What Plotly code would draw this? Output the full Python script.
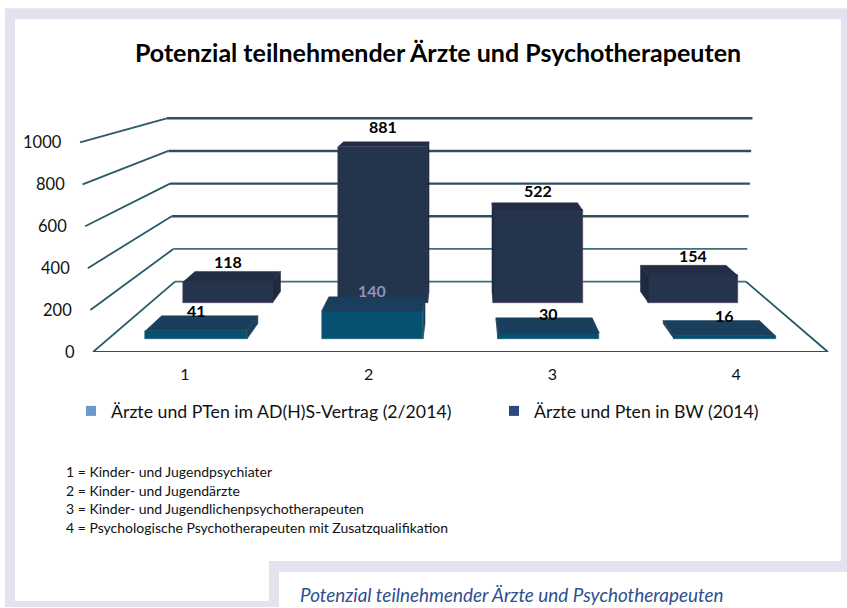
import plotly.graph_objects as go

# ---------- data ----------
CATEGORIES = ["1", "2", "3", "4"]
VALUES_VERTRAG = [41, 140, 30, 16]
VALUES_BW = [118, 881, 522, 154]
Y_TICKS = [0, 200, 400, 600, 800, 1000]
SERIES_NAMES = ["Ärzte und PTen im AD(H)S-Vertrag (2/2014)", "Ärzte und Pten in BW (2014)"]
TITLE = "Potenzial teilnehmender Ärzte und Psychotherapeuten"
FOOTNOTES = [
    "1 = Kinder- und Jugendpsychiater",
    "2 = Kinder- und Jugendärzte",
    "3 = Kinder- und Jugendlichenpsychotherapeuten",
    "4 = Psychologische Psychotherapeuten mit Zusatzqualifikation",
]
CAPTION = "Potenzial teilnehmender Ärzte und Psychotherapeuten"

# ---------- canvas / plot area in pixels ----------
W, H = 847, 608
PL, PR, PT, PB = 40, 840, 100, 352.5
X0_PX, X1_PX = 93, 828        # floor front edge
PX_PER_UNIT = 0.21            # front plane vertical scale
FONT = "Lato"

# ---------- oblique projection in axis units ----------
INSET = 82 / 735              # floor narrowing front -> back
RISE = 70.5 / PX_PER_UNIT     # floor rise front -> back
SHRINK = 0.2205               # value scale reduction front -> back
HALF = 0.072                  # half bar width (fraction of floor width)
ROW_FRONT = (0.184, 0.404)    # depth span, first series
ROW_BACK = (0.70, 0.86)       # depth span, second series


def X(u, d):
    return INSET * d + u * (1 - 2 * INSET * d)


def Y(v, d):
    return RISE * d + v * (1 - SHRINK * d)


def paper_x(px):
    return (px - PL) / (PR - PL)


def paper_y(py):
    return (PB - py) / (PB - PT)


fig = go.Figure()
N = len(CATEGORIES)


def add_row(values, row, name, c_front, c_top, c_side, c_line, lw):
    d0, d1 = row
    xs, bases, heights, widths = [], [], [], []
    polys = []
    for i, v in enumerate(values):
        c = (i + 0.5) / N
        ul, ur = c - HALF, c + HALF
        xs.append(X(c, d0))
        widths.append(X(ur, d0) - X(ul, d0))
        bases.append(Y(0, d0))
        heights.append(Y(v, d0) - Y(0, d0))
        polys.append(([X(ul, d0), X(ur, d0), X(ur, d1), X(ul, d1), X(ul, d0)],
                      [Y(v, d0), Y(v, d0), Y(v, d1), Y(v, d1), Y(v, d0)], c_top))
        if X(ur, d1) > X(ur, d0):
            polys.append(([X(ur, d0), X(ur, d1), X(ur, d1), X(ur, d0), X(ur, d0)],
                          [Y(0, d0), Y(0, d1), Y(v, d1), Y(v, d0), Y(0, d0)], c_side))
        if X(ul, d1) < X(ul, d0):
            polys.append(([X(ul, d0), X(ul, d1), X(ul, d1), X(ul, d0), X(ul, d0)],
                          [Y(0, d0), Y(0, d1), Y(v, d1), Y(v, d0), Y(0, d0)], c_side))
    fig.add_trace(go.Bar(x=xs, y=heights, base=bases, width=widths, showlegend=False, name=name,
                         marker=dict(color=c_front, line=dict(color=c_line, width=lw))))
    for px_, py_, col in polys:
        fig.add_trace(go.Scatter(x=px_, y=py_, mode="lines", fill="toself", fillcolor=col,
                                 line=dict(color=col, width=0.5), showlegend=False,
                                 hoverinfo="skip", cliponaxis=False))


add_row(VALUES_BW, ROW_BACK, SERIES_NAMES[1], "#25344D", "#232E45", "#1F2A40", "#5A3C50", 0.5)
add_row(VALUES_VERTRAG, ROW_FRONT, SERIES_NAMES[0], "#05516F", "#1A3F5C", "#1A3F5C", "#05516F", 0.5)

# legend entries
for name, col, lw in zip(SERIES_NAMES, ["#6C97CE", "#2D4A7E"], [378, 230]):
    fig.add_trace(go.Scatter(x=[None], y=[None], mode="markers", name=name, legendwidth=lw,
                             marker=dict(symbol="square", size=10, color=col)))

# ---------- decorative frame + walls ----------
LAV = "#E3E3EF"
shapes = []


def frame(x0, y0, x1, y1, col=LAV):
    shapes.append(dict(type="rect", xref="paper", yref="paper", layer="below",
                       x0=paper_x(x0), x1=paper_x(x1), y0=paper_y(y0), y1=paper_y(y1),
                       fillcolor=col, line=dict(width=0)))


frame(5, 8, 847, 608)
frame(15, 19, 841, 562, "#FFFFFF")
frame(15, 562, 269, 602, "#FFFFFF")
frame(279, 573, 847, 608, "#FFFFFF")

LEAN_FL, LEAN_BL, LEAN_BR = -0.0177, -0.0113, 0.0088


def seg(x0, y0, x1, y1, col, w):
    shapes.append(dict(type="line", xref="x", yref="y", layer="below",
                       x0=x0, y0=y0, x1=x1, y1=y1, line=dict(color=col, width=w)))


for t in Y_TICKS:
    f = t / 1000
    col = "#3F6F7C" if t <= 200 else "#2E4F5E"
    w = 1.8 if t <= 200 else 2.4
    seg(X(0, 0) + LEAN_FL * f, Y(t, 0), X(0, 1) + LEAN_BL * f, Y(t, 1), "#2A5A68", 1.8)
    seg(X(0, 1) + LEAN_BL * f, Y(t, 1), X(1, 1) + LEAN_BR * f, Y(t, 1), col, w)
seg(X(0, 0), 0, X(1, 0), 0, "#1E5566", 2)
seg(X(1, 0), 0, X(1, 1), Y(0, 1), "#1E5566", 1.8)

# ---------- annotations ----------
ann = []
for t in Y_TICKS:
    f = t / 1000
    ann.append(dict(x=X(0, 0) + LEAN_FL * f, y=Y(t, 0), xref="x", yref="y", text=str(t), showarrow=False,
                    xanchor="right", yanchor="middle", xshift=-16, font=dict(family=FONT, size=16.5, color="#111")))

for values, row, colors in ((VALUES_BW, ROW_BACK, ["#000"] * 4),
                            (VALUES_VERTRAG, ROW_FRONT, ["#000", "#8E92BC", "#000", "#000"])):
    for i, v in enumerate(values):
        c = (i + 0.5) / N
        ann.append(dict(x=X(c, row[0]), y=Y(v, row[0]), xref="x", yref="y", text=f"<b>{v}</b>", showarrow=False,
                        yanchor="middle", yshift=20, font=dict(family=FONT, size=16, color=colors[i])))

for line, py in zip(FOOTNOTES, [472, 491, 509, 528]):
    ann.append(dict(x=paper_x(64), y=paper_y(py), xref="paper", yref="paper", text=line, showarrow=False,
                    xanchor="left", yanchor="middle", font=dict(family=FONT, size=14, color="#111")))
ann.append(dict(x=paper_x(298), y=paper_y(595), xref="paper", yref="paper", text=f"<i>{CAPTION}</i>",
                showarrow=False, xanchor="left", yanchor="middle", font=dict(family=FONT, size=18.9, color="#2F4F8F")))

fig.update_layout(
    width=W, height=H, autosize=False,
    margin=dict(l=PL, r=W - PR, t=PT, b=H - PB, pad=0),
    paper_bgcolor="#FFFFFF", plot_bgcolor="rgba(0,0,0,0)",
    barmode="overlay", bargap=0,
    title=dict(text=f"<b>{TITLE}</b>", x=438 / W, y=1 - 53 / H, xanchor="center", yanchor="middle",
               font=dict(family=FONT, size=25, color="#000")),
    xaxis=dict(range=[(PL - X0_PX) / (X1_PX - X0_PX), (PR - X0_PX) / (X1_PX - X0_PX)],
               tickmode="array", tickvals=[(i + 0.5) / N for i in range(N)], ticktext=CATEGORIES,
               showgrid=False, zeroline=False, showline=False, ticks="outside", ticklen=8,
               tickcolor="rgba(0,0,0,0)", tickfont=dict(family=FONT, size=16, color="#111")),
    yaxis=dict(range=[0, (PB - PT) / PX_PER_UNIT], visible=False),
    legend=dict(orientation="h", x=paper_x(71), y=paper_y(412), xanchor="left", yanchor="middle",
                bgcolor="rgba(0,0,0,0)", font=dict(family=FONT, size=17.7, color="#111"), itemclick=False),
    shapes=shapes, annotations=ann, showlegend=True,
)

fig.write_html("out.html", config={"displayModeBar": False}, post_script="document.body.style.margin='0';")
